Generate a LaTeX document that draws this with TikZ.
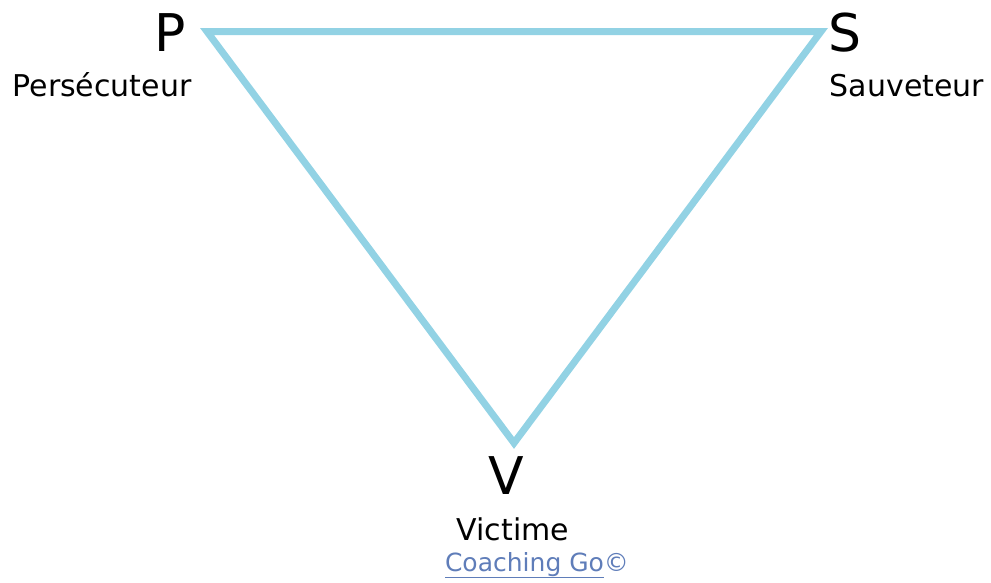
\documentclass[tikz,border=0pt]{standalone}
\usepackage{fontspec}
\setmainfont{DejaVu Sans}
\definecolor{tri}{RGB}{146,210,228}
\definecolor{linkc}{RGB}{95,125,185}
\begin{document}
\begin{tikzpicture}[x=1pt,y=-1pt,
  big/.style={inner sep=0, anchor=base, font=\fontsize{52}{58}\selectfont},
  lbl/.style={inner sep=0, anchor=base, font=\fontsize{30}{36}\selectfont},
  edge/.style={draw=tri, line width=7pt, line join=miter}]
\useasboundingbox (0,0) rectangle (991,582);
\coordinate (p) at (207,31.5);
\coordinate (s) at (821,31.5);
\coordinate (v) at (514,443);
\draw[edge] (p) -- (s) -- (v) -- cycle;
\node[big] (pl) at (170,51) {P};
\node[big] (sl) at (845,51) {S};
\node[big] (vl) at (506,494) {V};
\node[lbl] (pers) at (102,96) {Persécuteur};
\node[lbl] (sauv) at (907,96) {Sauveteur};
\node[lbl] (vict) at (513,540) {Victime};
\node[inner sep=0, anchor=base, font=\fontsize{25}{30}\selectfont, text=linkc] (coach) at (537,571) {\underline{Coaching Go}©};
\end{tikzpicture}
\end{document}
